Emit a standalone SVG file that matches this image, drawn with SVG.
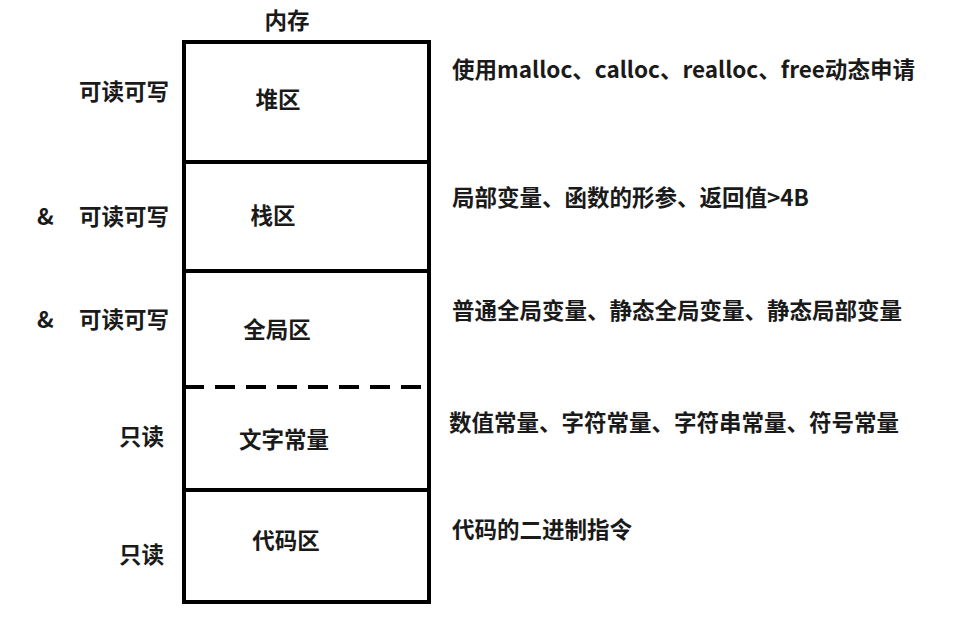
<svg xmlns="http://www.w3.org/2000/svg" width="966" height="622" viewBox="0 0 966 622">
<style>
text{font-family:"Noto Sans CJK SC","Noto Sans",sans-serif;font-weight:bold;font-size:22.5px;fill:#1a1a1a}
.c{text-anchor:middle}
.ln{stroke:#000;stroke-width:4;fill:none}
</style>
<rect width="966" height="622" fill="#fff"/>
<text class="c" x="287" y="29">内存</text>
<g id="memory">
<rect class="ln" x="184" y="42" width="245" height="560"/>
</g>
<g id="connectors">
<line class="ln" x1="184" y1="162" x2="429" y2="162"/>
<line class="ln" x1="184" y1="271" x2="429" y2="271"/>
<line class="ln" x1="184" y1="387" x2="429" y2="387" stroke-dasharray="20 11"/>
<line class="ln" x1="184" y1="490" x2="429" y2="490"/>
</g>
<g id="heap">
<text class="c" x="278" y="108">堆区</text>
<text x="79" y="100">可读可写</text>
<text x="452" y="78" textLength="463" lengthAdjust="spacingAndGlyphs">使用malloc、calloc、realloc、free动态申请</text>
</g>
<g id="stack">
<text class="c" x="273" y="224">栈区</text>
<text x="37" y="225">&amp;</text>
<text x="79" y="225">可读可写</text>
<text x="452" y="206">局部变量、函数的形参、返回值&gt;4B</text>
</g>
<g id="global">
<text class="c" x="277" y="338">全局区</text>
<text x="37" y="328">&amp;</text>
<text x="79" y="328">可读可写</text>
<text x="452" y="319">普通全局变量、静态全局变量、静态局部变量</text>
</g>
<g id="literal">
<text class="c" x="284" y="448">文字常量</text>
<text x="119" y="445">只读</text>
<text x="449" y="431">数值常量、字符常量、字符串常量、符号常量</text>
</g>
<g id="code">
<text class="c" x="286" y="549">代码区</text>
<text x="119" y="563">只读</text>
<text x="452" y="538">代码的二进制指令</text>
</g>
</svg>
